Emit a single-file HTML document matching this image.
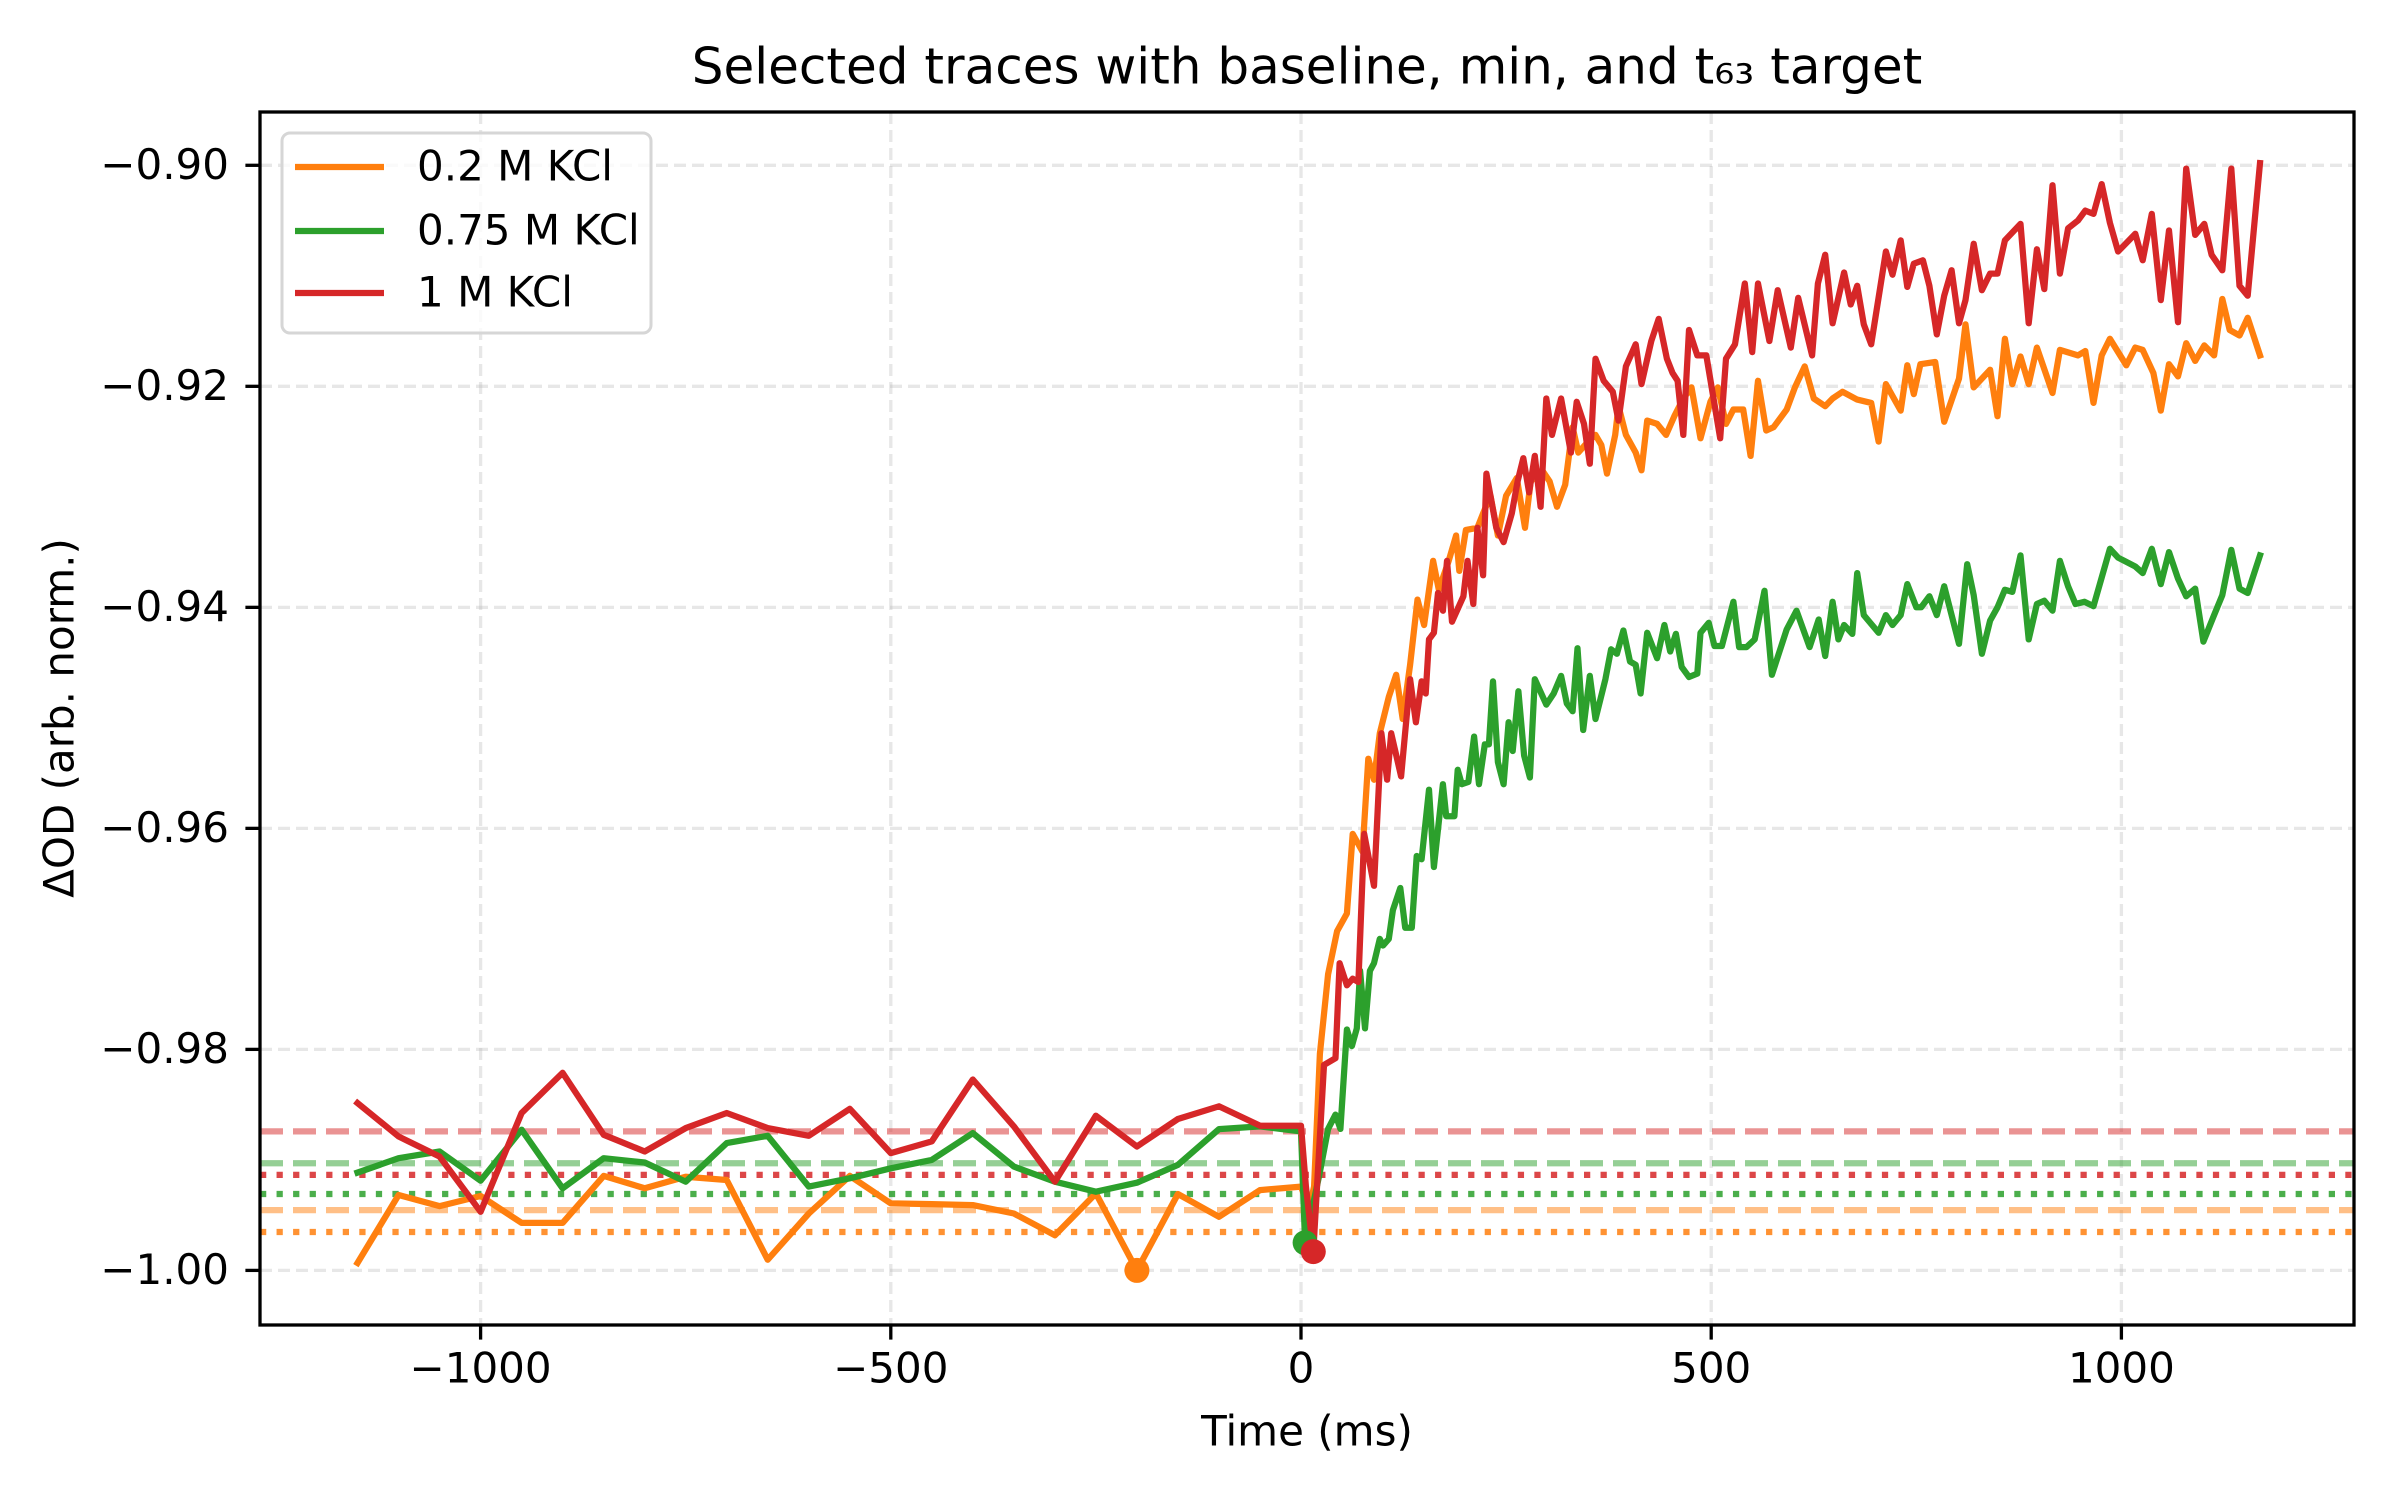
<!DOCTYPE html>
<html><head><meta charset="utf-8"><style>
html,body{margin:0;padding:0;background:#fff;}
svg{display:block;font-family:"DejaVu Sans","Liberation Sans",sans-serif;}
</style></head><body>
<svg id="chart" width="2400" height="1500" viewBox="0 0 2400 1500">
<defs><clipPath id="plotclip"><rect x="260" y="112" width="2094" height="1213"/></clipPath></defs>
<rect width="2400" height="1500" fill="#fff"/>
<g id="grid"></g>
<g id="hlines" clip-path="url(#plotclip)"></g>
<g id="series" clip-path="url(#plotclip)"></g>
<g id="axes"></g>
<text x="1307" y="70" text-anchor="middle" dominant-baseline="middle" font-size="50" fill="#000">Selected traces with baseline, min, and t₆₃ target</text>
<text x="1307" y="1434" text-anchor="middle" dominant-baseline="middle" font-size="42" fill="#000">Time (ms)</text>
<text x="0" y="0" transform="translate(62,718) rotate(-90)" text-anchor="middle" dominant-baseline="middle" font-size="42" fill="#000">ΔOD (arb. norm.)</text>
<g id="legend">
<rect x="282" y="133" width="369" height="200" rx="8" fill="#fff" fill-opacity="0.8" stroke="#d6d6d6" stroke-width="3"/>
<line x1="295" y1="167" x2="384" y2="167" stroke="#ff7f0e" stroke-width="6.25"/>
<text x="417" y="169" dominant-baseline="middle" font-size="42">0.2 M KCl</text>
<line x1="295" y1="231" x2="384" y2="231" stroke="#2ca02c" stroke-width="6.25"/>
<text x="417" y="233" dominant-baseline="middle" font-size="42">0.75 M KCl</text>
<line x1="295" y1="293" x2="384" y2="293" stroke="#d62728" stroke-width="6.25"/>
<text x="417" y="295" dominant-baseline="middle" font-size="42">1 M KCl</text>
</g>
</svg>
<script>
const xTicks = [-1000, -500, 0, 500, 1000];
const xTickLabels = ["−1000", "−500", "0", "500", "1000"];
const yTicks = [-1.00, -0.98, -0.96, -0.94, -0.92, -0.90];
const yTickLabels = ["−1.00", "−0.98", "−0.96", "−0.94", "−0.92", "−0.90"];

const preT = [-1150,-1100,-1050,-1000,-950,-900,-850,-800,-750,-700,-650,-600,-550,-500,-450,-400,-350,-300,-250,-200,-150,-100,-50,0];
const redPre = [-0.98485,-0.98788,-0.98970,-0.99470,-0.98576,-0.98212,-0.98773,-0.98924,-0.98712,-0.98576,-0.98712,-0.98782,-0.98539,-0.98939,-0.98833,-0.98273,-0.98697,-0.99197,-0.98600,-0.98879,-0.98630,-0.98515,-0.98691,-0.98691];
const greenPre = [-0.99115,-0.98985,-0.98924,-0.99188,-0.98727,-0.99257,-0.98985,-0.99024,-0.99197,-0.98848,-0.98782,-0.99242,-0.99167,-0.99076,-0.99000,-0.98758,-0.99061,-0.99197,-0.99288,-0.99206,-0.99045,-0.98721,-0.98697,-0.98742];
const orangePre = [-0.99933,-0.99318,-0.99418,-0.99327,-0.99570,-0.99570,-0.99145,-0.99257,-0.99152,-0.99182,-0.99903,-0.99485,-0.99145,-0.99394,-0.99400,-0.99409,-0.99485,-0.99682,-0.99303,-1.00000,-0.99309,-0.99515,-0.99273,-0.99242];

const orangePostT = [10,16,23,33,44,56,63,75,82,89,96,107,116,124,133,142,150,161,168,180,189,193,201,215,222,231,240,250,263,273,280,294,303,312,322,331,338,350,359,366,373,383,387,396,408,415,422,434,445,455,466,476,487,499,508,518,527,539,548,557,567,576,592,602,614,625,639,648,660,678,695,704,713,731,739,747,755,773,784,802,810,820,840,849,858,867,877,887,897,916,925,947,956,966,976,986,1006,1017,1026,1039,1048,1058,1069,1079,1090,1101,1113,1123,1132,1144,1154,1169];
const orangePost = [-0.9944,-0.9924,-0.9804,-0.9732,-0.9693,-0.9677,-0.9605,-0.9621,-0.9537,-0.9556,-0.9514,-0.9481,-0.9461,-0.9501,-0.9452,-0.9393,-0.9416,-0.9358,-0.9384,-0.9358,-0.9335,-0.9367,-0.9330,-0.9328,-0.9315,-0.9299,-0.9335,-0.9299,-0.9283,-0.9328,-0.9286,-0.9276,-0.9286,-0.9309,-0.9289,-0.9237,-0.9260,-0.9250,-0.9244,-0.9253,-0.9279,-0.9244,-0.9218,-0.9244,-0.9260,-0.9276,-0.9231,-0.9234,-0.9244,-0.9227,-0.9211,-0.9201,-0.9247,-0.9214,-0.9201,-0.9234,-0.9221,-0.9221,-0.9263,-0.9195,-0.9240,-0.9237,-0.9221,-0.9201,-0.9182,-0.9211,-0.9218,-0.9211,-0.9205,-0.9212,-0.9215,-0.9250,-0.9198,-0.9222,-0.9181,-0.9207,-0.9180,-0.9178,-0.9232,-0.9193,-0.9144,-0.9201,-0.9185,-0.9227,-0.9157,-0.9198,-0.9173,-0.9198,-0.9165,-0.9206,-0.9167,-0.9172,-0.9168,-0.9215,-0.9172,-0.9157,-0.9181,-0.9165,-0.9167,-0.9188,-0.9222,-0.9180,-0.9191,-0.9161,-0.9177,-0.9163,-0.9172,-0.9121,-0.9149,-0.9154,-0.9138,-0.9172];

const redPostT = [6,15,28,42,47,56,63,70,77,89,98,105,110,122,133,140,147,152,156,162,167,173,178,184,198,203,210,215,222,226,238,247,257,264,271,278,285,292,299,306,317,329,336,345,352,359,369,380,387,396,408,415,427,436,446,453,459,466,473,483,494,511,518,529,541,550,557,571,581,597,606,623,630,639,648,662,670,678,686,695,713,721,731,739,747,758,766,775,784,793,802,810,820,830,840,849,858,877,887,897,906,916,925,935,947,956,966,976,986,996,1017,1026,1037,1048,1058,1069,1079,1090,1101,1110,1123,1134,1144,1154,1169];
const redPost = [-0.9924,-0.9983,-0.9814,-0.9808,-0.9722,-0.9742,-0.9736,-0.9739,-0.9605,-0.9652,-0.9514,-0.9556,-0.9514,-0.9553,-0.9465,-0.9504,-0.9467,-0.9478,-0.9429,-0.9423,-0.9387,-0.9403,-0.9358,-0.9413,-0.9390,-0.9358,-0.9397,-0.9328,-0.9371,-0.9279,-0.9328,-0.9341,-0.9315,-0.9286,-0.9265,-0.9296,-0.9263,-0.9309,-0.9211,-0.9244,-0.9211,-0.9260,-0.9214,-0.9234,-0.9270,-0.9175,-0.9195,-0.9205,-0.9231,-0.9182,-0.9162,-0.9198,-0.9159,-0.9139,-0.9175,-0.9188,-0.9195,-0.9244,-0.9149,-0.9172,-0.9172,-0.9247,-0.9175,-0.9162,-0.9107,-0.9169,-0.9107,-0.9159,-0.9113,-0.9165,-0.9120,-0.9172,-0.9107,-0.9081,-0.9143,-0.9097,-0.9126,-0.9109,-0.9144,-0.9162,-0.9078,-0.9099,-0.9068,-0.9110,-0.9089,-0.9086,-0.9109,-0.9153,-0.9118,-0.9095,-0.9143,-0.9122,-0.9071,-0.9113,-0.9098,-0.9098,-0.9068,-0.9053,-0.9143,-0.9076,-0.9112,-0.9018,-0.9098,-0.9057,-0.9050,-0.9041,-0.9044,-0.9017,-0.9052,-0.9078,-0.9062,-0.9086,-0.9044,-0.9122,-0.9059,-0.9142,-0.9003,-0.9063,-0.9053,-0.9081,-0.9095,-0.9003,-0.9109,-0.9118,-0.8998];

const greenPostT = [5,23,33,42,48,56,62,68,72,78,84,89,96,100,107,112,121,127,135,141,147,156,162,173,177,187,191,196,204,211,217,224,229,234,240,247,253,258,265,272,279,285,299,308,317,324,331,337,344,352,359,371,378,385,393,401,408,414,422,434,443,450,457,464,473,483,487,497,504,513,527,534,543,553,565,574,592,604,620,631,639,648,655,662,672,678,686,704,713,721,731,739,750,756,766,775,784,802,812,820,830,840,849,858,867,877,887,897,906,916,925,935,944,955,966,976,986,996,1017,1026,1037,1048,1058,1069,1079,1090,1100,1113,1123,1134,1144,1154,1169];
const greenPost = [-0.9975,-0.9911,-0.9872,-0.9859,-0.9872,-0.9782,-0.9797,-0.9781,-0.9729,-0.9781,-0.9729,-0.9722,-0.9700,-0.9706,-0.9700,-0.9674,-0.9654,-0.9690,-0.9690,-0.9625,-0.9628,-0.9565,-0.9635,-0.9560,-0.9589,-0.9589,-0.9547,-0.9560,-0.9558,-0.9517,-0.9560,-0.9524,-0.9524,-0.9467,-0.9540,-0.9560,-0.9504,-0.9530,-0.9476,-0.9534,-0.9554,-0.9465,-0.9488,-0.9478,-0.9462,-0.9487,-0.9494,-0.9437,-0.9511,-0.9462,-0.9501,-0.9465,-0.9438,-0.9442,-0.9421,-0.9449,-0.9452,-0.9478,-0.9423,-0.9446,-0.9416,-0.9440,-0.9424,-0.9454,-0.9463,-0.9460,-0.9423,-0.9414,-0.9435,-0.9435,-0.9395,-0.9436,-0.9436,-0.9429,-0.9385,-0.9461,-0.9420,-0.9403,-0.9436,-0.9411,-0.9444,-0.9395,-0.9429,-0.9416,-0.9424,-0.9369,-0.9407,-0.9423,-0.9407,-0.9416,-0.9407,-0.9379,-0.9400,-0.9400,-0.9390,-0.9407,-0.9381,-0.9433,-0.9361,-0.9389,-0.9442,-0.9412,-0.9400,-0.9384,-0.9386,-0.9353,-0.9429,-0.9397,-0.9394,-0.9403,-0.9358,-0.9381,-0.9397,-0.9395,-0.9399,-0.9373,-0.9347,-0.9355,-0.9363,-0.9369,-0.9347,-0.9379,-0.9350,-0.9374,-0.9390,-0.9383,-0.9431,-0.9407,-0.9389,-0.9348,-0.9383,-0.9387,-0.9353];

const baselines = [-0.99455, -0.9903, -0.98742];
const targets = [-0.99652, -0.99309, -0.99136];
const minT = [-200, 5, 15];
const minV = [-1.0000, -0.9975, -0.9983];
const seriesNames = ["0-2m", "0-75m", "1m"];
const colors = ["#ff7f0e", "#2ca02c", "#d62728"];

const X0 = 260, X1 = 2354, Y0 = 112, Y1 = 1325;
function xs(t){ return 1301 + t * 0.8204; }
function ys(v){ return 1270.4 - (v + 1) * 11051; }
const NS = "http://www.w3.org/2000/svg";
function mk(tag, attrs, parent){ const e=document.createElementNS(NS,tag); for(const k in attrs) e.setAttribute(k,attrs[k]); parent.appendChild(e); return e; }

const grid = document.getElementById('grid');
const axes = document.getElementById('axes');
xTicks.forEach((t,i)=>{
  const gl = mk('line',{x1:xs(t),x2:xs(t),y1:Y0,y2:Y1,stroke:'#b0b0b0','stroke-opacity':0.3,'stroke-width':3.3,'stroke-dasharray':'12 6'},grid);
  
  
  const tk = mk('line',{x1:xs(t),x2:xs(t),y1:Y1,y2:Y1+14.6,stroke:'#000','stroke-width':3.3},axes);
  
  
  const lb = mk('text',{x:xs(t),y:1371,'text-anchor':'middle','dominant-baseline':'middle','font-size':42},axes);
  lb.textContent = xTickLabels[i];
  
  
});
yTicks.forEach((v,i)=>{
  const gl = mk('line',{x1:X0,x2:X1,y1:ys(v),y2:ys(v),stroke:'#b0b0b0','stroke-opacity':0.3,'stroke-width':3.3,'stroke-dasharray':'12 6'},grid);
  
  
  const tk = mk('line',{x1:X0-14.6,x2:X0,y1:ys(v),y2:ys(v),stroke:'#000','stroke-width':3.3},axes);
  
  
  const lb = mk('text',{x:229,y:ys(v)+2,'text-anchor':'end','dominant-baseline':'middle','font-size':42},axes);
  lb.textContent = yTickLabels[i];
  
  
});
const frame = mk('rect',{x:X0,y:Y0,width:X1-X0,height:Y1-Y0,fill:'none',stroke:'#000','stroke-width':3.3},axes);



const hl = document.getElementById('hlines');
for(let i=0;i<3;i++){
  const b = mk('line',{x1:X0,x2:X1,y1:ys(baselines[i]),y2:ys(baselines[i]),stroke:colors[i],'stroke-opacity':0.5,'stroke-width':6.25,'stroke-dasharray':'23 10'},hl);
  
  
  const t = mk('line',{x1:X0,x2:X1,y1:ys(targets[i]),y2:ys(targets[i]),stroke:colors[i],'stroke-opacity':0.85,'stroke-width':6.25,'stroke-dasharray':'6.25 10.3'},hl);
  
  
}

const sg = document.getElementById('series');
const allT = [preT.concat(orangePostT), preT.concat(greenPostT), preT.concat(redPostT)];
const allV = [orangePre.concat(orangePost), greenPre.concat(greenPost), redPre.concat(redPost)];
for(let i=0;i<3;i++){
  const pts = allT[i].map((t,j)=>xs(t).toFixed(1)+','+ys(allV[i][j]).toFixed(1)).join(' ');
  const pl = mk('polyline',{points:pts,fill:'none',stroke:colors[i],'stroke-width':6.25,'stroke-linejoin':'round','stroke-linecap':'square'},sg);
  
  
}
for(let i=0;i<3;i++){
  const c = mk('circle',{cx:xs(minT[i]),cy:ys(minV[i]),r:12.5,fill:colors[i]},sg);
  
  
}
</script>
</body></html>
